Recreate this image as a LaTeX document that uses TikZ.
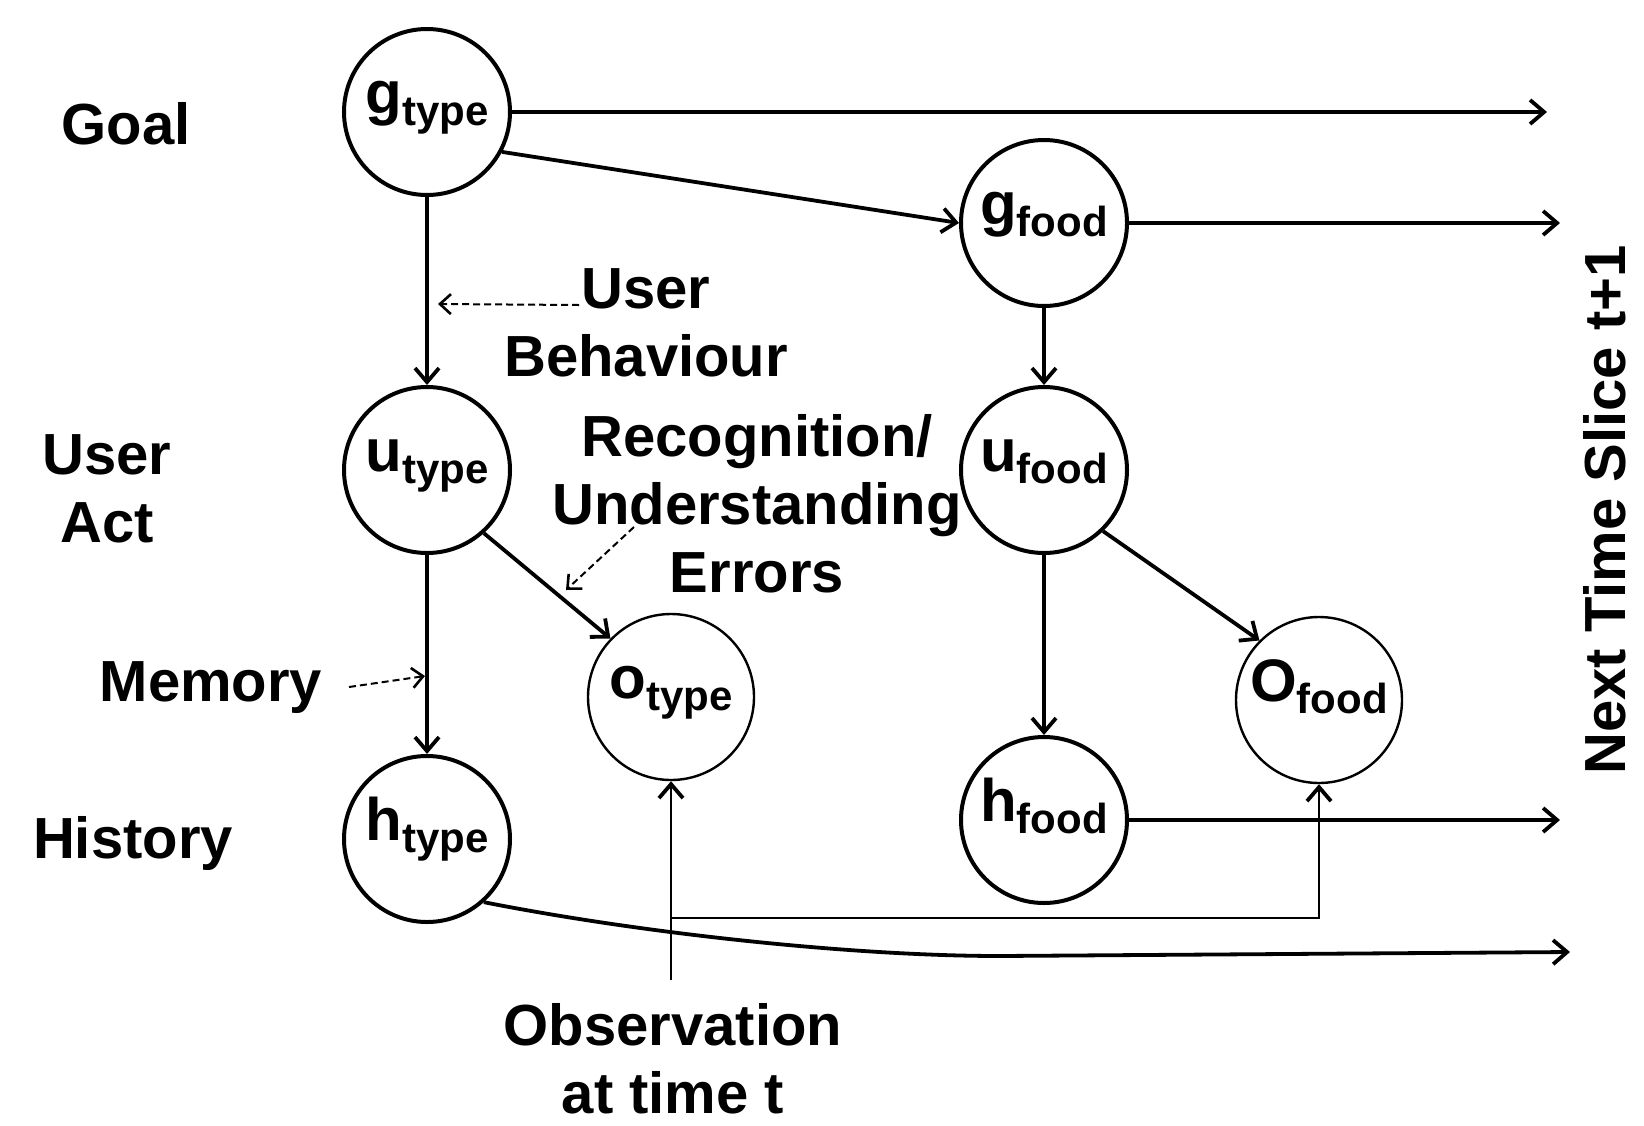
\documentclass[tikz,border=0pt]{standalone}
\usepackage{fontspec}
\setmainfont{Liberation Sans}
\usetikzlibrary{arrows.meta}
% variable label: big letter with lowered index
\newcommand{\vlab}[2]{{\fontsize{60}{60}\selectfont #1}\raisebox{-12pt}{\fontsize{42}{42}\selectfont #2}}

\begin{document}
\begin{tikzpicture}[x=1pt,y=-1pt,line width=3.8pt,
    >={Straight Barb[length=14pt,width=24pt,line width=3.8pt]}]
  \tikzset{every node/.style={font=\bfseries\fontsize{58}{68}\selectfont,align=center},
    varnode/.style={draw,circle,minimum size=166pt,inner sep=0pt,line width=4pt,
      text height=20pt,text depth=18pt},
    obsnode/.style={varnode,line width=2.4pt},
    thinline/.style={line width=2.2pt},
    hint/.style={->,line width=2pt,dash pattern=on 7pt off 4pt,
      >={Straight Barb[length=11pt,width=20pt,line width=2.6pt]}}}
  \useasboundingbox (0,0) rectangle (1644,1125);

  % variables
  \node[varnode] (gtype) at (427,112) {\vlab{g}{type}};
  \node[varnode] (gfood) at (1044,223) {\vlab{g}{food}};
  \node[varnode] (utype) at (427,470) {\vlab{u}{type}};
  \node[varnode] (ufood) at (1044,470) {\vlab{u}{food}};
  \node[obsnode] (otype) at (671,697) {\vlab{o}{type}};
  \node[obsnode] (ofood) at (1319,700) {\vlab{O}{food}};
  \node[varnode] (htype) at (427,839) {\vlab{h}{type}};
  \node[varnode] (hfood) at (1044,820) {\vlab{h}{food}};

  % labels
  \node (goal) at (126,124) {Goal};
  \node (act) at (107,489) {User\\Act};
  \node (memory) at (211,688) {Memory};
  \node (history) at (133,843) {History};
  \node (behav) at (646,323) {User\\Behaviour};
  \node (recog) at (757,504) {Recognition/\\Understanding\\Errors};
  \node (obstext) at (673,1059) {Observation\\at time t};
  \node[rotate=90] (next) at (1605,510) {Next Time Slice t+1};

  \path
  (1547,112)coordinate(gnext)
  (1560,223)coordinate(fnext)
  (1560,820)coordinate(hnext)
  (1000,956)coordinate(bend)
  (1570,952)coordinate(tnext)
  (671,980)coordinate(obsbot)
  (671,918)coordinate(obsjoin)
  (1319,918)coordinate(obsturn)
  (579,305)coordinate(behavtail)
  (438,304)coordinate(behavtip)
  (634,527)coordinate(recogtail)
  (566,590)coordinate(recogtip)
  (349,687)coordinate(memtail)
  (425,676)coordinate(memtip)
  ;

  % dependencies
  \draw[->] (gtype) -- (gnext);
  \draw[->] (gtype.-28) -- (gfood.west);
  \draw[->] (gfood) -- (fnext);
  \draw[->] (gtype) -- (utype);
  \draw[->] (gfood) -- (ufood);
  \draw[->] (utype) -- (htype);
  \draw[->] (ufood) -- (hfood);
  \draw[->] (utype.-48) -- (otype.136);
  \draw[->] (ufood.-46) -- (ofood.135);
  \draw[->] (hfood) -- (hnext);
  \draw[->] (htype.-48) .. controls (640,933) and (850,956) .. (bend) -- (tnext);

  % observation input
  \draw[thinline,->] (obsbot) -- (otype);
  \draw[thinline,->] (obsjoin) -- (obsturn) -- (ofood);

  % explanations
  \draw[hint] (behavtail) -- (behavtip);
  \draw[hint] (recogtail) -- (recogtip);
  \draw[hint] (memtail) -- (memtip);
\end{tikzpicture}
\end{document}
